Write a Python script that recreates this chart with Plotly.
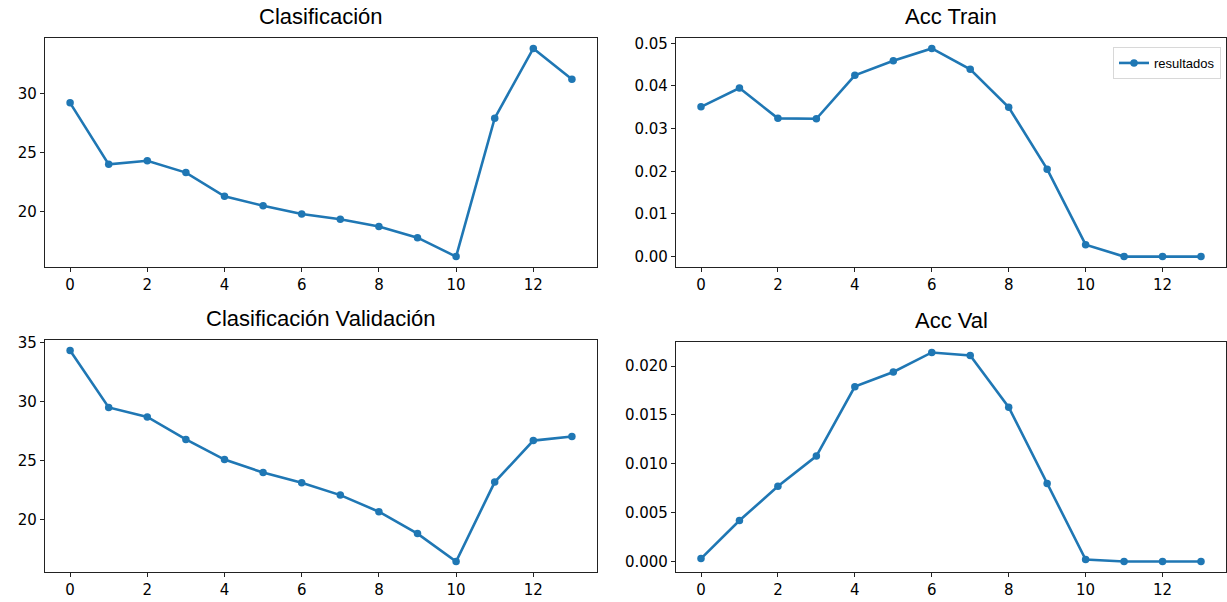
import plotly.graph_objects as go

epochs = list(range(14))
clasificacion = [29.2, 24.0, 24.3, 23.3, 21.3, 20.5, 19.8, 19.35, 18.75, 17.8, 16.2, 27.9, 33.8, 31.2]
acc_train = [0.0351, 0.0395, 0.0324, 0.0323, 0.0425, 0.0459, 0.0488, 0.0439, 0.0350, 0.0205, 0.0028, 0.0, 0.0, 0.0]
clasif_val = [34.3, 29.5, 28.7, 26.8, 25.1, 24.0, 23.15, 22.1, 20.7, 18.85, 16.5, 23.2, 26.7, 27.05]
acc_val = [0.0003, 0.0042, 0.0077, 0.0108, 0.0179, 0.0194, 0.0214, 0.0211, 0.0158, 0.0080, 0.0002, 0.0, 0.0, 0.0]

titles = ["Clasificación", "Acc Train", "Clasificación Validación", "Acc Val"]
series = [clasificacion, acc_train, clasif_val, acc_val]

W, H = 1227, 602
color = "#1f77b4"

# panel boxes in pixels (left, right, top, bottom)
boxes = [(45, 597, 38, 267), (676, 1226, 38, 267), (45, 597, 340, 572), (676, 1226, 342, 572)]
ytick_vals = [[20, 25, 30], [0, 0.01, 0.02, 0.03, 0.04, 0.05], [20, 25, 30, 35],
              [0, 0.005, 0.01, 0.015, 0.02]]
ytick_fmt = [".0f", ".2f", ".0f", ".3f"]

fig = go.Figure()
tick_font = dict(family="DejaVu Sans", size=15, color="black")
for i, (vals, title, box) in enumerate(zip(series, titles, boxes)):
    n = i + 1
    xa = "x" if n == 1 else f"x{n}"
    ya = "y" if n == 1 else f"y{n}"
    fig.add_trace(go.Scatter(
        x=epochs, y=vals, mode="lines+markers", name="resultados",
        line=dict(color=color, width=2.6), marker=dict(color=color, size=7.5),
        xaxis=xa, yaxis=ya, showlegend=(n == 2)))
    l, r, t, b = box
    lo, hi = min(vals), max(vals)
    pad = (hi - lo) * 0.05
    xkey = "xaxis" if n == 1 else f"xaxis{n}"
    ykey = "yaxis" if n == 1 else f"yaxis{n}"
    fig.update_layout({
        xkey: dict(domain=[l / W, r / W], anchor=ya, range=[-0.65, 13.65],
                   tickvals=list(range(0, 14, 2)), showgrid=False, zeroline=False,
                   showline=True, mirror=True, linecolor="#222", linewidth=1.2,
                   ticks="outside", ticklen=4, tickcolor="#222", tickfont=tick_font,
                   automargin=False),
        ykey: dict(domain=[1 - b / H, 1 - t / H], anchor=xa, range=[lo - pad, hi + pad],
                   tickvals=ytick_vals[i], tickformat=ytick_fmt[i], showgrid=False,
                   zeroline=False, showline=True, mirror=True, linecolor="#222",
                   linewidth=1.2, ticks="outside", ticklen=4, tickcolor="#222",
                   tickfont=tick_font, automargin=False),
    })
    fig.add_annotation(text=title, x=(l + r) / 2 / W, y=1 - (t - 7) / H,
                       xref="paper", yref="paper", xanchor="center", yanchor="bottom",
                       showarrow=False, font=dict(family="Liberation Sans", size=22, color="black"))

fig.update_layout(
    template="none",
    width=W, height=H, margin=dict(l=0, r=0, t=0, b=0, pad=0, autoexpand=False),
    plot_bgcolor="white", paper_bgcolor="white",
    legend=dict(x=1221 / W, y=1 - 47 / H, xanchor="right", yanchor="top",
                bgcolor="rgba(255,255,255,0.8)", bordercolor="#d8d8d8", borderwidth=1,
                font=dict(family="Liberation Sans", size=13, color="black")),
)

fig.write_html("out.html")
